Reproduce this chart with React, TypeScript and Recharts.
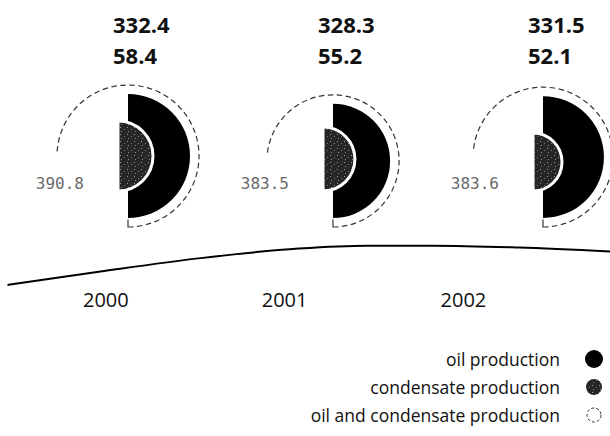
import { PieChart, Pie, Cell, LineChart, Line, XAxis, YAxis, Legend } from "recharts";

const years = [2000, 2001, 2002];
const oilProduction = [332.4, 328.3, 331.5];
const condensateProduction = [58.4, 55.2, 52.1];
const totalProduction = [390.8, 383.5, 383.6];
const seriesNames = ["oil production", "condensate production", "oil and condensate production"];

// sweeping baseline under the discs: x in years, y in px from the top
const baselineX = [1999.45, 1999.97, 2000.53, 2001.08, 2001.46, 2001.83, 2002.31, 2002.82];
const baselineY = [297, 283, 269, 259, 256, 256, 258, 262];

const baseline = baselineX.map((x, i) => ({ x, y: baselineY[i] }));

const centers = [128, 333, 543];
const OIL_BOTTOM = 218;
const COND_BOTTOM = 191;
const rOil = (v: number) => 62 + (v - 332.4) * 1.2;
const rCond = (v: number) => 35 + (v - 58.4) * 0.95;

// dashes along the 270deg arc, then blank over the radii, short dash at the bottom
const dashFor = (R: number, tail: number) => {
  const L = R * Math.PI * 1.5;
  const n = Math.floor(L / 9);
  const parts: number[] = [];
  for (let k = 0; k < n; k++) parts.push(5.5, 3.5);
  parts[parts.length - 1] += L - n * 9 + R + (R - tail);
  parts.push(tail, 2000);
  return parts.join(" ");
};

const font = "'Open Sans', sans-serif";

const Speckle = ({ id }: { id: string }) => (
  <pattern id={id} width="7" height="7" patternUnits="userSpaceOnUse">
    <rect width="7" height="7" fill="#262626" />
    <rect x="1" y="1" width="1" height="1" fill="#9a9a9a" />
    <rect x="5" y="3" width="1" height="1" fill="#7a7a7a" />
    <rect x="2" y="5" width="1" height="1" fill="#8a8a8a" />
  </pattern>
);

const LegendContent = () => (
  <div style={{ fontFamily: font, fontSize: 17.5, color: "#111" }}>
    {seriesNames.map((name, i) => (
      <div key={name} style={{ display: "flex", justifyContent: "flex-end", alignItems: "center", height: 28 }}>
        <span>{name}</span>
        <svg width={20} height={20} style={{ marginLeft: 24 }}>
          <defs>
            <Speckle id="speckle-legend" />
          </defs>
          {i === 0 && <circle cx={10} cy={10} r={9} fill="#000" />}
          {i === 1 && <circle cx={10} cy={10} r={8} fill="url(#speckle-legend)" />}
          {i === 2 && <circle cx={10} cy={10} r={7} fill="none" stroke="#333" strokeDasharray="3 2" />}
        </svg>
      </div>
    ))}
  </div>
);

export default function App() {
  return (
    <div style={{ position: "absolute", left: 0, top: 0, width: 610, height: 436, background: "#fff", fontFamily: font }}>
      <div style={{ position: "absolute", left: 0, top: 0 }}>
        <LineChart width={610} height={315} data={baseline} margin={{ top: 0, right: 0, bottom: 0, left: 0 }}>
          <XAxis
            type="number"
            dataKey="x"
            domain={[1999.408, 2002.816]}
            ticks={years}
            axisLine={false}
            tickLine={false}
            height={30}
            tick={{ fontSize: 20, fill: "#111", fontFamily: font }}
          />
          <YAxis hide type="number" domain={[0, 285]} reversed />
          <Line type="monotone" dataKey="y" stroke="#000" strokeWidth={2} dot={false} isAnimationActive={false} />
        </LineChart>
      </div>
      <div style={{ position: "absolute", left: 0, top: 0 }}>
        <PieChart width={610} height={436} margin={{ top: 0, right: 0, bottom: 0, left: 0 }}>
          <defs>
            <Speckle id="speckle" />
          </defs>
          {years.map((year, i) => {
            const cx = centers[i];
            const ro = rOil(oilProduction[i]);
            const rc = rCond(condensateProduction[i]);
            const cy = OIL_BOTTOM - ro;
            const R = ro + 9;
            return [
              <Pie
                key={`total-${year}`}
                data={[{ name: seriesNames[2], value: totalProduction[i] }]}
                dataKey="value"
                nameKey="name"
                cx={cx}
                cy={cy}
                innerRadius={0}
                outerRadius={R}
                startAngle={-90}
                endAngle={180}
                isAnimationActive={false}
                labelLine={false}
                label={() => (
                  <text x={cx - 44} y={189} textAnchor="end" fontSize={16} fontFamily="'DejaVu Sans Mono', monospace" fill="#6a6a6a">
                    {totalProduction[i].toFixed(1)}
                  </text>
                )}
              >
                <Cell fill="none" stroke="#333" strokeWidth={1.2} strokeDasharray={dashFor(R, R - ro - 1)} />
              </Pie>,
              <Pie
                key={`oil-${year}`}
                data={[{ name: seriesNames[0], value: oilProduction[i] }]}
                dataKey="value"
                nameKey="name"
                cx={cx}
                cy={cy}
                innerRadius={0}
                outerRadius={ro}
                startAngle={90}
                endAngle={-90}
                isAnimationActive={false}
                labelLine={false}
                label={() => (
                  <text x={cx - 15} y={33} fontSize={22} fontWeight={700} fontFamily={font} fill="#111">
                    {oilProduction[i].toFixed(1)}
                  </text>
                )}
              >
                <Cell fill="#000" stroke="none" />
              </Pie>,
              <Pie
                key={`cond-${year}`}
                data={[{ name: seriesNames[1], value: condensateProduction[i] }]}
                dataKey="value"
                nameKey="name"
                cx={cx - 10}
                cy={COND_BOTTOM - rc}
                innerRadius={0}
                outerRadius={rc}
                startAngle={90}
                endAngle={-90}
                isAnimationActive={false}
                labelLine={false}
                label={() => (
                  <text x={cx - 15} y={64} fontSize={22} fontWeight={700} fontFamily={font} fill="#111">
                    {condensateProduction[i].toFixed(1)}
                  </text>
                )}
              >
                <Cell fill="url(#speckle)" stroke="#fff" strokeWidth={3} />
              </Pie>,
            ];
          })}
          <Legend
            content={<LegendContent />}
            wrapperStyle={{ top: 345, right: 6, left: "auto", bottom: "auto", width: "auto" }}
          />
        </PieChart>
      </div>
    </div>
  );
}
